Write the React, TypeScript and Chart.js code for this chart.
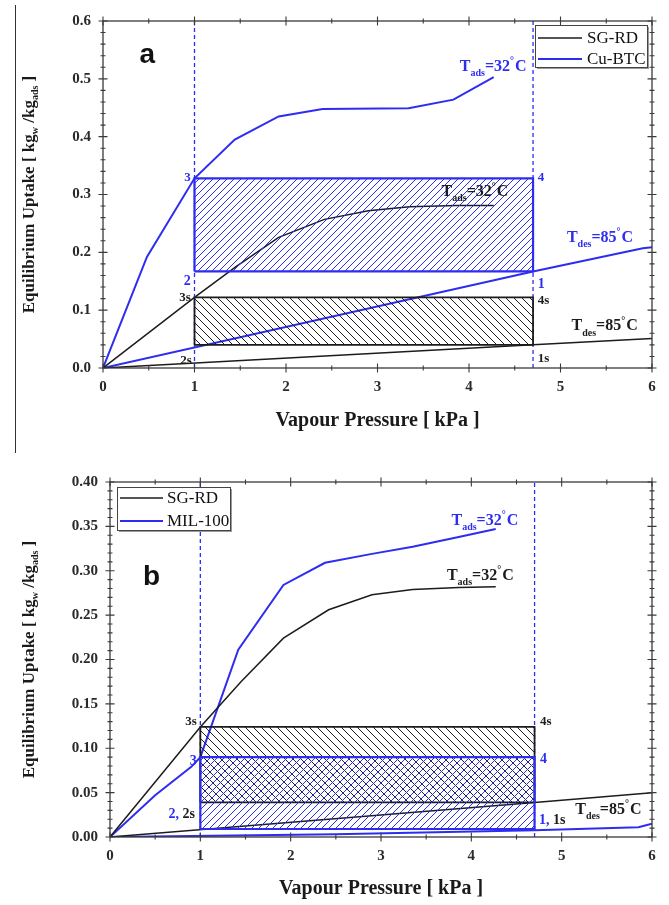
import React, { useEffect, useRef } from "react";
import { Chart, registerables } from "chart.js";

Chart.register(...registerables);

// ---------------- DATA ----------------
// Cycle pressure bounds (kPa), shared by both panels
const cycleP = [1, 4.7];
const xRange = [0, 6];

// Panel a — SG-RD vs Cu-BTC
const aSgAdsP = [0, 1.0, 1.45, 1.92, 2.42, 2.9, 3.35, 3.86, 4.27];
const aSgAdsU = [0, 0.122, 0.175, 0.226, 0.257, 0.272, 0.279, 0.281, 0.281];
const aSgDesP = [0, 4.7, 6];
const aSgDesU = [0, 0.04, 0.051];
const aCuAdsP = [0, 0.48, 1.0, 1.44, 1.92, 2.4, 3.34, 3.83, 4.27];
const aCuAdsU = [0, 0.192, 0.328, 0.395, 0.435, 0.448, 0.449, 0.464, 0.503];
const aCuDesP = [0, 4.7, 5.9, 6];
const aCuDesU = [0, 0.167, 0.207, 0.209];
const aCuCycleU = [0.167, 0.328];
const aSgCycleU = [0.04, 0.122];
const aYRange = [0, 0.6];

// Panel b — SG-RD vs MIL-100
const bSgAdsP = [0, 1.0, 1.45, 1.92, 2.42, 2.9, 3.35, 3.86, 4.27];
const bSgAdsU = [0, 0.124, 0.175, 0.224, 0.256, 0.273, 0.279, 0.281, 0.282];
const bSgDesP = [0, 4.7, 6];
const bSgDesU = [0, 0.039, 0.05];
const bMilAdsP = [0, 0.5, 0.9, 1.0, 1.42, 1.92, 2.38, 2.9, 3.35, 3.86, 4.27];
const bMilAdsU = [0, 0.047, 0.079, 0.09, 0.211, 0.284, 0.309, 0.319, 0.327, 0.338, 0.347];
const bMilDesP = [0, 2.5, 4.7, 5.85, 6];
const bMilDesU = [0, 0.003, 0.0075, 0.011, 0.015];
const bMilCycleU = [0.009, 0.09];
const bSgCycleU = [0.039, 0.124];
const bYRange = [0, 0.4];

// ---------------- STYLE ----------------
const BLUE = "#2d2df2";
const BLACK = "#1c1c1c";
const AXIS = "#3a3a3a";
const SERIF = "'Liberation Serif', 'Times New Roman', serif";
const SANS = "'Liberation Sans', Arial, sans-serif";

type Seg = { t: string; m?: "sub" | "sup"; c?: string };
type Annot = {
  p: number;
  u: number;
  segs: Seg[];
  color: string;
  align: "left" | "right" | "center";
  size: number;
  family?: string;
  baseline?: "middle" | "alphabetic";
};

const tAds = (): Seg[] => [{ t: "T" }, { t: "ads", m: "sub" }, { t: "=32" }, { t: "°", m: "sup" }, { t: "C" }];
const tDes = (): Seg[] => [{ t: "T" }, { t: "des", m: "sub" }, { t: "=85" }, { t: "°", m: "sup" }, { t: "C" }];

function drawRich(
  ctx: CanvasRenderingContext2D,
  segs: Seg[],
  x: number,
  y: number,
  size: number,
  color: string,
  align: "left" | "right" | "center",
  family: string = SERIF,
  weight: string = "bold"
) {
  const fontFor = (m?: string) => `${weight} ${m ? Math.round(size * 0.6) : size}px ${family}`;
  const widths = segs.map((s) => {
    ctx.font = fontFor(s.m);
    return ctx.measureText(s.t).width + (s.m === "sup" ? 1 : 0);
  });
  const total = widths.reduce((a, b) => a + b, 0);
  let cx = align === "left" ? x : align === "right" ? x - total : x - total / 2;
  ctx.textAlign = "left";
  segs.forEach((s, i) => {
    ctx.font = fontFor(s.m);
    ctx.fillStyle = s.c || color;
    const dy = s.m === "sub" ? size * 0.32 : s.m === "sup" ? -size * 0.42 : 0;
    ctx.fillText(s.t, cx, y + dy);
    cx += widths[i];
  });
}

function makeHatch(ctx: CanvasRenderingContext2D, color: string, size: number, dir: "/" | "\\") {
  const c = document.createElement("canvas");
  c.width = size;
  c.height = size;
  const g = c.getContext("2d")!;
  g.strokeStyle = color;
  g.lineWidth = 1;
  g.beginPath();
  if (dir === "/") {
    g.moveTo(0, size);
    g.lineTo(size, 0);
    g.moveTo(-1, 1);
    g.lineTo(1, -1);
    g.moveTo(size - 1, size + 1);
    g.lineTo(size + 1, size - 1);
  } else {
    g.moveTo(0, 0);
    g.lineTo(size, size);
    g.moveTo(size - 1, -1);
    g.lineTo(size + 1, 1);
    g.moveTo(-1, size - 1);
    g.lineTo(1, size + 1);
  }
  g.stroke();
  return ctx.createPattern(c, "repeat")!;
}

const pts = (ps: number[], us: number[]) => ps.map((p, i) => ({ x: p, y: us[i] }));
const rectPts = (ps: number[], us: number[]) => [
  { x: ps[0], y: us[0] },
  { x: ps[1], y: us[0] },
  { x: ps[1], y: us[1] },
  { x: ps[0], y: us[1] },
  { x: ps[0], y: us[0] },
];

type Panel = {
  height: number;
  padTop: number;
  padRight: number;
  yAxisWidth: number;
  xAxisHeight: number;
  xTitlePad: number;
  yRange: number[];
  yStep: number;
  yMinor: number;
  yDecimals: number;
  series: { label: string; p: number[]; u: number[]; color: string; width: number; legend?: boolean }[];
  rects: { u: number[]; color: string; dir: "/" | "\\"; hatch: number; width: number }[];
  annots: Annot[];
  legendBox: { dx: number; dy: number; w: number; h: number; fromRight: boolean; rows: number[]; lineLen: number; textGap: number };
  yTitleX: number;
};

const panelA: Panel = {
  height: 450,
  padTop: 14,
  padRight: 17,
  yAxisWidth: 103,
  xAxisHeight: 82,
  xTitlePad: 17,
  yRange: aYRange,
  yStep: 0.1,
  yMinor: 0.02,
  yDecimals: 1,
  series: [
    { label: "SG-RD", p: aSgAdsP, u: aSgAdsU, color: BLACK, width: 1.5, legend: true },
    { label: "SG-RD des", p: aSgDesP, u: aSgDesU, color: BLACK, width: 1.5 },
    { label: "Cu-BTC", p: aCuAdsP, u: aCuAdsU, color: BLUE, width: 2, legend: true },
    { label: "Cu-BTC des", p: aCuDesP, u: aCuDesU, color: BLUE, width: 2 },
  ],
  rects: [
    { u: aCuCycleU, color: BLUE, dir: "/", hatch: 7, width: 2.2 },
    { u: aSgCycleU, color: BLACK, dir: "\\", hatch: 8, width: 1.8 },
  ],
  annots: [
    { p: 0.4, u: 0.528, segs: [{ t: "a" }], color: "#111", align: "left", size: 28, family: SANS },
    { p: 3.9, u: 0.514, segs: tAds(), color: BLUE, align: "left", size: 16 },
    { p: 3.7, u: 0.297, segs: tAds(), color: BLACK, align: "left", size: 16 },
    { p: 5.07, u: 0.2175, segs: tDes(), color: BLUE, align: "left", size: 16 },
    { p: 5.12, u: 0.065, segs: tDes(), color: BLACK, align: "left", size: 16 },
    { p: 0.96, u: 0.33, segs: [{ t: "3" }], color: BLUE, align: "right", size: 13, baseline: "middle" },
    { p: 0.96, u: 0.15, segs: [{ t: "2" }], color: BLUE, align: "right", size: 14, baseline: "middle" },
    { p: 0.96, u: 0.122, segs: [{ t: "3s" }], color: BLACK, align: "right", size: 13, baseline: "middle" },
    { p: 0.97, u: 0.012, segs: [{ t: "2s" }], color: BLACK, align: "right", size: 13, baseline: "middle" },
    { p: 4.75, u: 0.33, segs: [{ t: "4" }], color: BLUE, align: "left", size: 13, baseline: "middle" },
    { p: 4.75, u: 0.144, segs: [{ t: "1" }], color: BLUE, align: "left", size: 14, baseline: "middle" },
    { p: 4.75, u: 0.116, segs: [{ t: "4s" }], color: BLACK, align: "left", size: 13, baseline: "middle" },
    { p: 4.75, u: 0.017, segs: [{ t: "1s" }], color: BLACK, align: "left", size: 13, baseline: "middle" },
  ],
  legendBox: { dx: 117, dy: 4, w: 112, h: 42, fromRight: true, rows: [13, 34], lineLen: 44, textGap: 5 },
  yTitleX: 30,
};

const panelB: Panel = {
  height: 455,
  padTop: 32,
  padRight: 17,
  yAxisWidth: 110,
  xAxisHeight: 68,
  xTitlePad: 4,
  yRange: bYRange,
  yStep: 0.05,
  yMinor: 0.01,
  yDecimals: 2,
  series: [
    { label: "SG-RD", p: bSgAdsP, u: bSgAdsU, color: BLACK, width: 1.5, legend: true },
    { label: "SG-RD des", p: bSgDesP, u: bSgDesU, color: BLACK, width: 1.5 },
    { label: "MIL-100", p: bMilAdsP, u: bMilAdsU, color: BLUE, width: 2, legend: true },
    { label: "MIL-100 des", p: bMilDesP, u: bMilDesU, color: BLUE, width: 2 },
  ],
  rects: [
    { u: bMilCycleU, color: BLUE, dir: "/", hatch: 7, width: 2.2 },
    { u: bSgCycleU, color: BLACK, dir: "\\", hatch: 8, width: 1.8 },
  ],
  annots: [
    { p: 0.365, u: 0.284, segs: [{ t: "b" }], color: "#111", align: "left", size: 28, family: SANS },
    { p: 3.78, u: 0.352, segs: tAds(), color: BLUE, align: "left", size: 16 },
    { p: 3.73, u: 0.29, segs: tAds(), color: BLACK, align: "left", size: 16 },
    { p: 5.15, u: 0.026, segs: tDes(), color: BLACK, align: "left", size: 16 },
    { p: 0.96, u: 0.13, segs: [{ t: "3s" }], color: BLACK, align: "right", size: 13, baseline: "middle" },
    { p: 0.96, u: 0.085, segs: [{ t: "3" }], color: BLUE, align: "right", size: 14, baseline: "middle" },
    { p: 0.94, u: 0.026, segs: [{ t: "2, ", c: BLUE }, { t: "2s", c: BLACK }], color: BLUE, align: "right", size: 14, baseline: "middle" },
    { p: 4.76, u: 0.13, segs: [{ t: "4s" }], color: BLACK, align: "left", size: 13, baseline: "middle" },
    { p: 4.76, u: 0.087, segs: [{ t: "4" }], color: BLUE, align: "left", size: 14, baseline: "middle" },
    { p: 4.75, u: 0.019, segs: [{ t: "1, ", c: BLUE }, { t: "1s", c: BLACK }], color: BLUE, align: "left", size: 14, baseline: "middle" },
  ],
  legendBox: { dx: 7, dy: 5, w: 113, h: 43, fromRight: false, rows: [11, 34], lineLen: 43, textGap: 4 },
  yTitleX: 30,
};

function buildChart(canvas: HTMLCanvasElement, cfg: Panel) {
  const ctx = canvas.getContext("2d")!;
  const datasets: any[] = [];

  // hatched cycle rectangles
  cfg.rects.forEach((r) => {
    datasets.push({
      label: "cycle",
      data: rectPts(cycleP, r.u),
      borderColor: r.color,
      borderWidth: r.width,
      backgroundColor: makeHatch(ctx, r.color, r.hatch, r.dir),
      fill: "shape",
      pointRadius: 0,
      tension: 0,
    });
  });
  // dashed vertical pressure bounds
  cycleP.forEach((p) => {
    datasets.push({
      label: "bound",
      data: [
        { x: p, y: cfg.yRange[0] },
        { x: p, y: cfg.yRange[1] },
      ],
      borderColor: BLUE,
      borderWidth: 1.3,
      borderDash: [4, 3],
      pointRadius: 0,
      fill: false,
    });
  });
  cfg.series.forEach((s) => {
    datasets.push({
      label: s.label,
      data: pts(s.p, s.u),
      borderColor: s.color,
      borderWidth: s.width,
      pointRadius: 0,
      fill: false,
      tension: 0,
    });
  });

  const frame = {
    id: "frame",
    afterDatasetsDraw(chart: any) {
      const { ctx: c, chartArea: a, scales } = chart;
      const xs = scales.x;
      const ys = scales.y;
      c.save();
      c.strokeStyle = AXIS;
      c.lineWidth = 1.3;
      c.strokeRect(a.left, a.top, a.right - a.left, a.bottom - a.top);
      c.lineWidth = 1.1;
      c.beginPath();
      for (let v = xRange[0]; v <= xRange[1] + 1e-9; v += 0.5) {
        const px = xs.getPixelForValue(v);
        const major = Math.abs(v - Math.round(v)) < 1e-6;
        const len = major ? 4.5 : 2.5;
        c.moveTo(px, a.bottom - len);
        c.lineTo(px, a.bottom + len);
        c.moveTo(px, a.top - len);
        c.lineTo(px, a.top + len);
      }
      const n = Math.round((cfg.yRange[1] - cfg.yRange[0]) / cfg.yMinor);
      const per = Math.round(cfg.yStep / cfg.yMinor);
      for (let i = 0; i <= n; i++) {
        const v = cfg.yRange[0] + i * cfg.yMinor;
        const py = ys.getPixelForValue(v);
        const len = i % per === 0 ? 4.5 : 2.5;
        c.moveTo(a.left - len, py);
        c.lineTo(a.left + len, py);
        c.moveTo(a.right - len, py);
        c.lineTo(a.right + len, py);
      }
      c.stroke();
      c.restore();
    },
  };

  const annot = {
    id: "annot",
    afterDraw(chart: any) {
      const { ctx: c, chartArea: a, scales } = chart;
      c.save();
      // annotations
      cfg.annots.forEach((t) => {
        c.textBaseline = t.baseline || "alphabetic";
        drawRich(c, t.segs, scales.x.getPixelForValue(t.p), scales.y.getPixelForValue(t.u), t.size, t.color, t.align, t.family || SERIF);
      });
      // legend
      const L = cfg.legendBox;
      const bx = L.fromRight ? a.right - L.dx : a.left + L.dx;
      const by = a.top + L.dy;
      c.fillStyle = "#fff";
      c.fillRect(bx, by, L.w, L.h);
      c.strokeStyle = "#9a9a9a";
      c.lineWidth = 2;
      c.beginPath();
      c.moveTo(bx + 2, by + L.h + 1);
      c.lineTo(bx + L.w + 1, by + L.h + 1);
      c.lineTo(bx + L.w + 1, by + 2);
      c.stroke();
      c.strokeStyle = "#444";
      c.lineWidth = 1;
      c.strokeRect(bx + 0.5, by + 0.5, L.w, L.h);
      const items = cfg.series.filter((s) => s.legend);
      items.forEach((s, i) => {
        const ry = by + L.rows[i];
        c.strokeStyle = s.color;
        c.lineWidth = s.width;
        c.beginPath();
        c.moveTo(bx + 3, ry);
        c.lineTo(bx + 3 + L.lineLen, ry);
        c.stroke();
        c.fillStyle = "#111";
        c.font = `17px ${SERIF}`;
        c.textAlign = "left";
        c.textBaseline = "middle";
        c.fillText(s.label, bx + 3 + L.lineLen + L.textGap, ry + 1);
      });
      // y axis title (rotated, with subscripts)
      c.translate(cfg.yTitleX, (a.top + a.bottom) / 2);
      c.rotate(-Math.PI / 2);
      c.textBaseline = "middle";
      drawRich(
        c,
        [{ t: "Equilibrium Uptake [ kg" }, { t: "w", m: "sub" }, { t: " /kg" }, { t: "ads", m: "sub" }, { t: " ]" }],
        0,
        0,
        17,
        "#1a1a1a",
        "center"
      );
      c.restore();
    },
  };

  const tickFont = { family: SERIF, size: 15, weight: "bold" as const };

  return new Chart(canvas, {
    type: "line",
    data: { datasets },
    options: {
      animation: false,
      responsive: false,
      maintainAspectRatio: false,
      layout: { padding: { top: cfg.padTop, right: cfg.padRight, left: 0, bottom: 0 } },
      plugins: { legend: { display: false }, tooltip: { enabled: false } },
      scales: {
        x: {
          type: "linear",
          min: xRange[0],
          max: xRange[1],
          grid: { display: false, drawTicks: false },
          border: { display: false },
          ticks: { stepSize: 1, font: tickFont, color: "#2a2a2a", padding: 10, maxRotation: 0, autoSkip: false },
          title: {
            display: true,
            text: "Vapour Pressure [ kPa ]",
            font: { family: SERIF, size: 20, weight: "bold" },
            color: "#1a1a1a",
            padding: { top: 0, bottom: cfg.xTitlePad },
          },
          afterFit: (s: any) => {
            s.height = cfg.xAxisHeight;
          },
        },
        y: {
          type: "linear",
          min: cfg.yRange[0],
          max: cfg.yRange[1],
          grid: { display: false, drawTicks: false },
          border: { display: false },
          ticks: {
            stepSize: cfg.yStep,
            font: tickFont,
            color: "#2a2a2a",
            padding: 12,
            autoSkip: false,
            callback: (v: any) => Number(v).toFixed(cfg.yDecimals),
          },
          afterFit: (s: any) => {
            s.width = cfg.yAxisWidth;
          },
        },
      },
    } as any,
    plugins: [frame, annot],
  });
}

function Panel({ cfg, top }: { cfg: Panel; top: number }) {
  const ref = useRef<HTMLCanvasElement>(null);
  useEffect(() => {
    if (!ref.current) return;
    const ch = buildChart(ref.current, cfg);
    return () => ch.destroy();
  }, [cfg]);
  return (
    <canvas
      ref={ref}
      width={669}
      height={cfg.height}
      style={{ position: "absolute", left: 0, top, width: 669, height: cfg.height, display: "block" }}
    />
  );
}

export default function App() {
  return (
    <div style={{ position: "absolute", left: 0, top: 0, width: 669, height: 905, background: "#fff", overflow: "hidden" }}>
      <Panel cfg={panelA} top={0} />
      <Panel cfg={panelB} top={450} />
      <div style={{ position: "absolute", left: 15, top: 5, width: 0, height: 448, borderLeft: "1.5px solid #333" }} />
    </div>
  );
}
